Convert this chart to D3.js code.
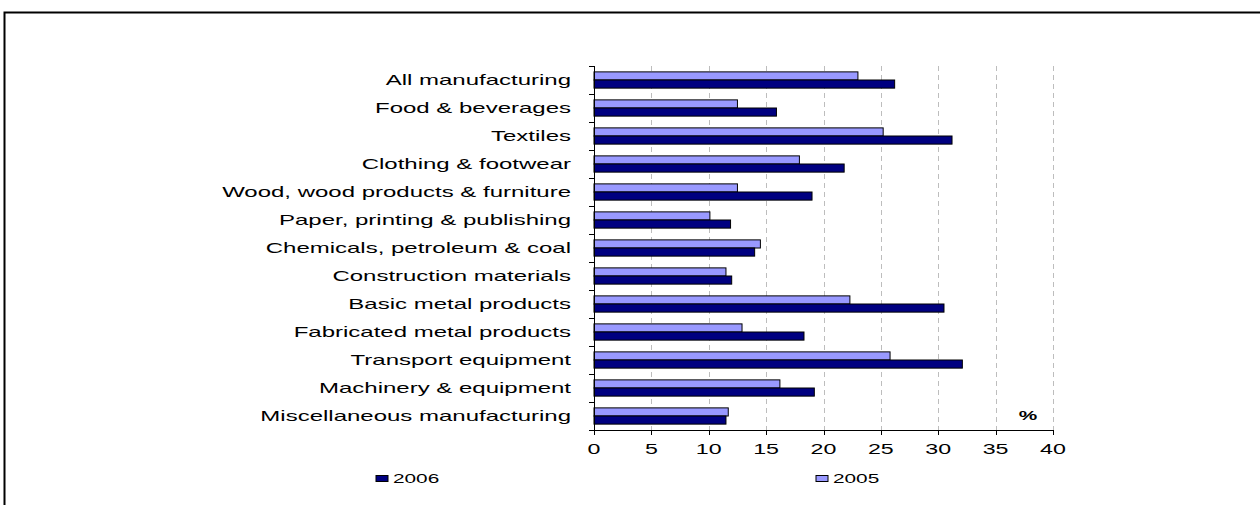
<!DOCTYPE html>
<html>
<head>
<meta charset="utf-8">
<script src="https://cdn.jsdelivr.net/npm/d3@7"></script>
<style>
  html, body { margin: 0; padding: 0; background: #fff; }
  svg { display: block; font-family: "Liberation Sans", Arial, sans-serif; }
</style>
</head>
<body>
<svg id="chart" width="1260" height="505"></svg>
<script>
const categories = [
  "All manufacturing",
  "Food & beverages",
  "Textiles",
  "Clothing & footwear",
  "Wood, wood products & furniture",
  "Paper, printing & publishing",
  "Chemicals, petroleum & coal",
  "Construction materials",
  "Basic metal products",
  "Fabricated metal products",
  "Transport equipment",
  "Machinery & equipment",
  "Miscellaneous manufacturing"
];
const values2005 = [23.0, 12.5, 25.2, 17.9, 12.5, 10.1, 14.5, 11.5, 22.3, 12.9, 25.8, 16.2, 11.7];
const values2006 = [26.2, 15.9, 31.2, 21.8, 19.0, 11.9, 14.0, 12.0, 30.5, 18.3, 32.1, 19.2, 11.5];
const xTicks = [0, 5, 10, 15, 20, 25, 30, 35, 40];
const seriesNames = ["2005", "2006"];
const seriesColors = { "2005": "#9999FF", "2006": "#000080" };
const legendOrder = ["2006", "2005"];

(function () {
const svg = d3.select("#chart");
const SX = 1.6; // horizontal stretch of the original rendering

// frame
svg.append("path")
  .attr("d", "M4.5,506 V12.5 H1262")
  .attr("fill", "none").attr("stroke", "#000").attr("stroke-width", 2);

const pLeft = 594, pRight = 1053, pTop = 66, pBottom = 430;

const x = d3.scaleLinear().domain([0, 40]).range([pLeft, pRight]);
const y = d3.scaleBand().domain(categories).range([pTop, pBottom])
  .paddingInner(0.42).paddingOuter(0.21);
const yInner = d3.scaleBand().domain(seriesNames).range([0, y.bandwidth()]);

// gridlines
svg.append("g").selectAll("line")
  .data(xTicks.filter(d => d > 0))
  .join("line")
  .attr("x1", d => Math.round(x(d)) + 0.5).attr("x2", d => Math.round(x(d)) + 0.5)
  .attr("y1", pTop).attr("y2", pBottom)
  .attr("stroke", "#bdbdbd").attr("stroke-width", 1)
  .attr("stroke-dasharray", "5,4");

// bars
const rows = categories.map((c, i) => ({ c, vals: { "2005": values2005[i], "2006": values2006[i] } }));
const g = svg.append("g");
rows.forEach(r => {
  seriesNames.forEach(s => {
    g.append("rect")
      .attr("x", x(0))
      .attr("y", y(r.c) + yInner(s))
      .attr("width", x(r.vals[s]) - x(0))
      .attr("height", yInner.bandwidth())
      .attr("fill", seriesColors[s])
      .attr("stroke", "#000").attr("stroke-width", 1);
  });
});

// y axis line and boundary ticks
const step = y.step();
const boundaries = d3.range(categories.length + 1).map(i => pTop + i * step);
svg.append("line").attr("x1", pLeft + 0.5).attr("x2", pLeft + 0.5)
  .attr("y1", pTop).attr("y2", pBottom).attr("stroke", "#000");
svg.append("g").selectAll("line").data(boundaries).join("line")
  .attr("x1", pLeft - 5).attr("x2", pLeft + 0.5)
  .attr("y1", d => Math.round(d) + 0.5).attr("y2", d => Math.round(d) + 0.5)
  .attr("stroke", "#000");

// x axis line and ticks
svg.append("line").attr("x1", pLeft).attr("x2", pRight + 0.5)
  .attr("y1", pBottom + 0.5).attr("y2", pBottom + 0.5).attr("stroke", "#000");
svg.append("g").selectAll("line").data(xTicks).join("line")
  .attr("x1", d => Math.round(x(d)) + 0.5).attr("x2", d => Math.round(x(d)) + 0.5)
  .attr("y1", pBottom).attr("y2", pBottom + 5)
  .attr("stroke", "#000");

// x tick labels
svg.append("g").selectAll("text").data(xTicks).join("text")
  .attr("transform", d => `translate(${x(d)},454) scale(${SX},1)`)
  .attr("text-anchor", "middle")
  .attr("font-size", 14.5)
  .attr("fill", "#000")
  .text(d => d);

// category labels
svg.append("g").selectAll("text").data(categories).join("text")
  .attr("transform", d => `translate(571,${y(d) + y.bandwidth() / 2}) scale(${SX},1)`)
  .attr("text-anchor", "end")
  .attr("dy", "0.35em")
  .attr("font-size", 15)
  .attr("fill", "#000")
  .text(d => d);

// % label
svg.append("text")
  .attr("transform", `translate(1028,420) scale(${SX},1)`)
  .attr("text-anchor", "middle")
  .attr("font-size", 13).attr("font-weight", "bold")
  .text("%");

// legend
const legendPos = { "2006": 376, "2005": 816 };
legendOrder.forEach(s => {
  const lx = legendPos[s];
  svg.append("rect")
    .attr("x", lx).attr("y", 475.5).attr("width", 12).attr("height", 6)
    .attr("fill", seriesColors[s]).attr("stroke", "#000").attr("stroke-width", 1);
  svg.append("text")
    .attr("transform", `translate(${lx + 17},483) scale(${SX},1)`)
    .attr("font-size", 13)
    .text(s);
});
})();
</script>
</body>
</html>
